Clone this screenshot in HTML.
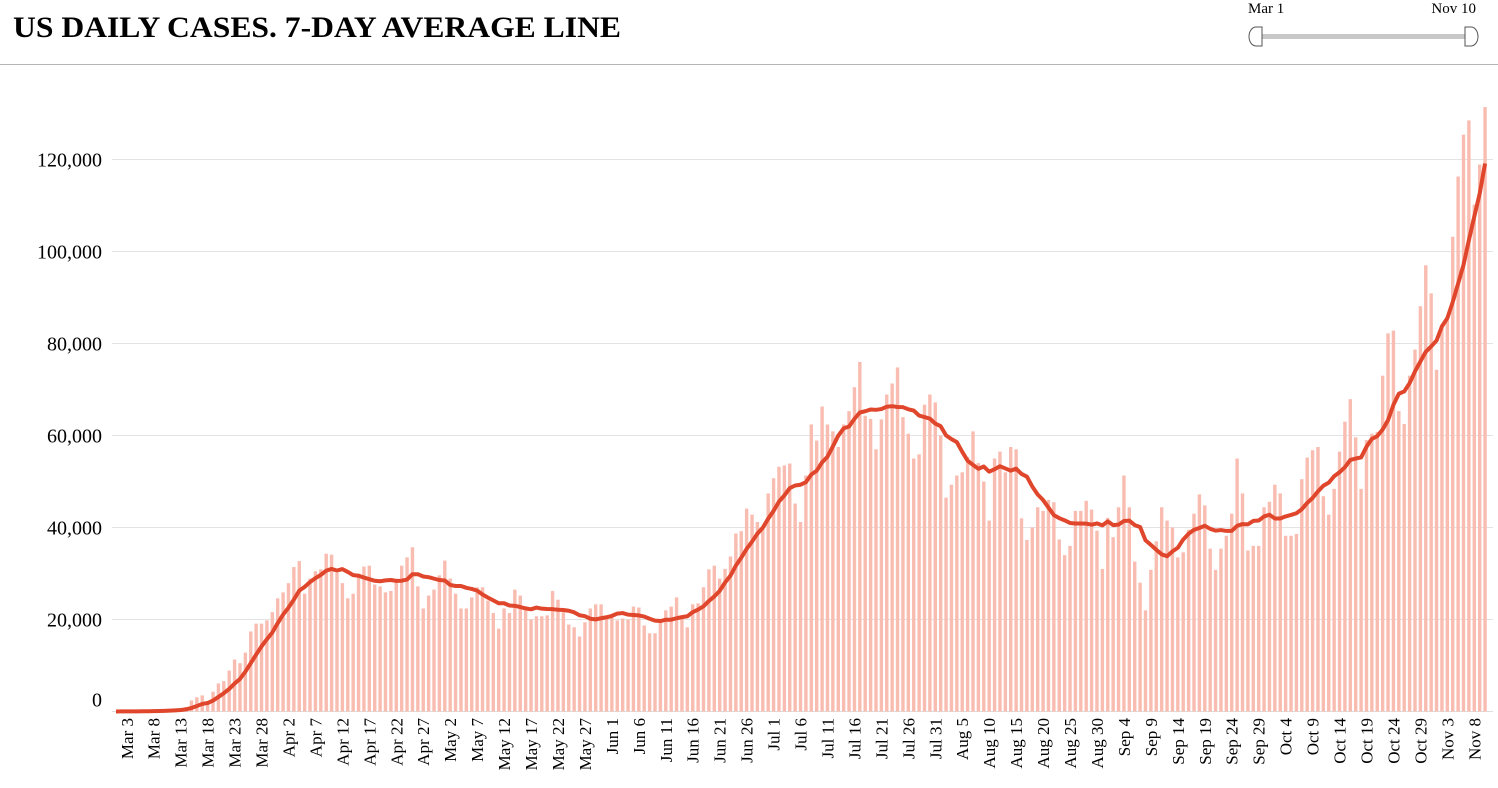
<!DOCTYPE html>
<html><head><meta charset="utf-8">
<style>
body{margin:0;background:#fff;width:1498px;height:783px;overflow:hidden;font-family:"Liberation Serif",serif;}
</style></head>
<body>
<svg id="chart" width="1498" height="783" xmlns="http://www.w3.org/2000/svg" font-family="Liberation Serif, serif">
  <text x="13" y="37" font-size="30" font-weight="bold" fill="#000" textLength="608" lengthAdjust="spacingAndGlyphs">US DAILY CASES. 7-DAY AVERAGE LINE</text>
  <line x1="0" y1="64.5" x2="1498" y2="64.5" stroke="#b5b5b5" stroke-width="1"/>
  <g>
    <text x="1248" y="13" font-size="15">Mar 1</text>
    <text x="1476" y="13" font-size="15" text-anchor="end">Nov 10</text>
    <rect x="1262" y="34" width="204" height="5" fill="#c8c8c8"/>
    <path d="M1262,27 L1256,27 A7,9.5 0 0 0 1256,46 L1262,46 Z" fill="#fff" stroke="#555" stroke-width="1"/>
    <path d="M1465,27 L1471,27 A7,9.5 0 0 1 1471,46 L1465,46 Z" fill="#fff" stroke="#555" stroke-width="1"/>
  </g>
  <g id="grid"></g>
  <g id="yaxis"></g>
  <g id="bars"></g>
  <g id="xaxis"></g>
  <path id="avgline" fill="none" stroke="#e0462b" stroke-width="4" stroke-linejoin="round"/>
</svg>
<script>
// daily cases in thousands, Mar 1 .. Nov 10
const startMonth = "Mar", startDay = 1;
const dailyCases = [
0.01,0.02,0.03,0.05,0.07,0.09,0.12,0.16,0.2,0.3,0.4,0.5,0.6,1.0,
2.4,3.1,3.5,1.8,4.3,6.1,6.6,8.9,11.3,10.5,12.8,17.4,19.1,19.1,19.8,21.6,24.6,25.9,27.9,31.4,32.7,25.6,28.9,30.5,30.9,34.3,34.1,30.1,27.9,24.6,25.6,30,31.5,31.7,27.6,27.2,25.9,26.2,28.7,31.7,33.5,
35.7,27.2,22.4,25.2,26.5,29.6,32.8,28.9,25.6,22.4,22.4,24.8,27,27,24.1,21.4,18,22.4,21.4,26.5,25.2,22,20,20.7,20.7,20.9,26.2,24.3,21.6,18.9,18.3,16.3,19.4,22.4,23.3,23.3,20.4,20.4,19.8,20.2,20,22.8,22.6,18.7,17,17,19.6,22,22.8,24.8,20.4,18.3,23.3,23.5,27,30.9,31.7,28.9,
31,33.7,38.7,39.2,44.1,42.8,41.2,40,47.4,50.7,53.2,53.5,53.9,45.2,41.2,51.3,62.4,58.9,66.3,62.4,60.9,57.5,62.4,65.3,70.5,76,64.3,63.6,57,63.5,68.9,71.3,74.8,64,60.4,55,55.9,66.7,68.9,67.2,60,46.5,49.3,51.3,52,55.3,60.9,54,50,
41.5,55,56.5,52,57.5,57,42,37.3,40,44.4,43.6,46,45.5,37.4,34,36,43.6,43.6,45.8,43.9,39.3,31,42.1,37.9,44.4,51.3,44.4,32.6,28,22,30.8,37,44.4,41.5,40,33.5,34.6,39.5,43,47.2,44.8,35.4,30.8,35.4,38.2,43,55,47.4,35,36,36,
44.4,45.6,49.3,47.4,38.2,38.2,38.6,50.5,55.2,56.8,57.5,46.8,42.8,48.4,56.5,63,67.9,59.6,48.4,59,60.4,60.8,73,82.2,82.8,65.3,62.5,73,78.7,88.1,97,90.9,74.3,84.1,85.4,103.2,116.3,125.4,128.5,110.2,118.9,131.4
];
const yTicks = [0,20,40,60,80,100,120];
const yTickLabels = ["0","20,000","40,000","60,000","80,000","100,000","120,000"];
const monthNames = ["Mar","Apr","May","Jun","Jul","Aug","Sep","Oct","Nov"];
const monthLengths = [31,30,31,30,31,31,30,31,30];

const NS="http://www.w3.org/2000/svg";
const x0=116, step=5.39, y0=711.5, yPerK=4.6;
const xScale = i => x0 + i*step;
const yScale = v => y0 - v*yPerK;
function mk(tag, attrs, parent){const e=document.createElementNS(NS,tag);for(const k in attrs)e.setAttribute(k,attrs[k]);parent.appendChild(e);return e;}
function dateLabel(i){let d=i+startDay-1,m=0;while(d>=monthLengths[m]){d-=monthLengths[m];m++;}return monthNames[m]+" "+(d+1);}

const grid=document.getElementById('grid'), yaxis=document.getElementById('yaxis');
yTicks.forEach((t,k)=>{
  if(t>0){
    const g=mk('line',{x1:112,x2:1493,y1:yScale(t),y2:yScale(t),stroke:'#e3e3e3','stroke-width':1},grid);
    
    
  }
  const tx=mk('text',{x:102,y:(t===0?yScale(t)-12:yScale(t))+7,'text-anchor':'end','font-size':20,fill:'#000'},yaxis);
  tx.textContent=yTickLabels[k];
  
  
});
const base=mk('line',{x1:112,x2:1493,y1:y0,y2:y0,stroke:'#ddd','stroke-width':1},grid);



const bars=document.getElementById('bars');
dailyCases.forEach((v,i)=>{
  const r=mk('rect',{x:xScale(i)-1.7,y:yScale(v),width:3.4,height:Math.max(0,y0-yScale(v)),fill:'#f9bcb0'},bars);
  
  
});

const xaxis=document.getElementById('xaxis');
for(let i=2;i<dailyCases.length;i+=5){
  const x=xScale(i)+6, y=718;
  const t=mk('text',{x:x,y:y,'text-anchor':'end','font-size':17,fill:'#000',transform:'rotate(-90 '+x+' '+y+')'},xaxis);
  t.textContent=dateLabel(i);
  
  
}

let d='';
dailyCases.forEach((v,i)=>{
  const s=Math.max(0,i-6);let sum=0;for(let j=s;j<=i;j++)sum+=dailyCases[j];
  const avg=sum/(i-s+1);
  d+=(i?'L':'M')+xScale(i).toFixed(2)+','+yScale(avg).toFixed(2);
});
document.getElementById('avgline').setAttribute('d',d);
</script>
</body></html>
